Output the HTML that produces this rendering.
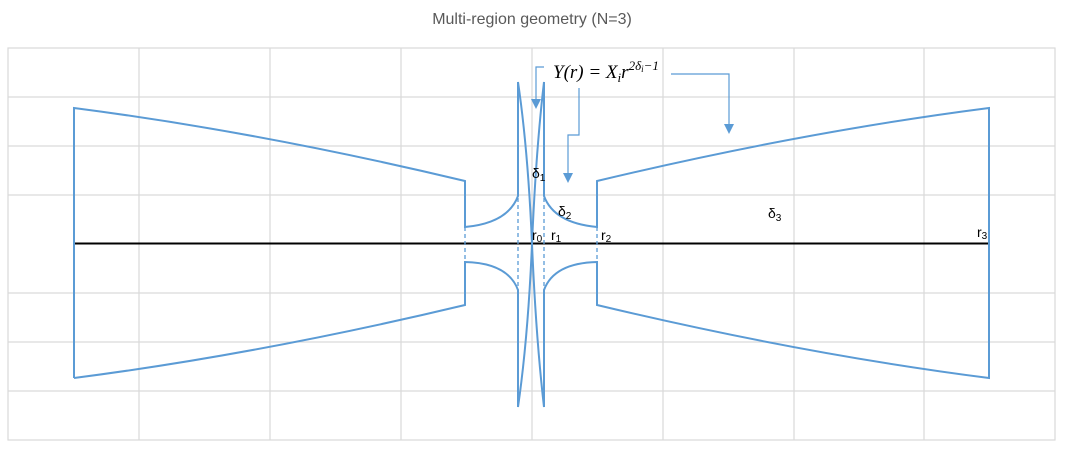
<!DOCTYPE html>
<html><head><meta charset="utf-8"><style>
html,body{margin:0;padding:0;background:#fff;}
svg{display:block;}
.lbl{font-family:"Liberation Sans","DejaVu Sans",sans-serif;font-size:14px;fill:#000;}
</style></head><body>
<svg width="1065" height="453" viewBox="0 0 1065 453" xmlns="http://www.w3.org/2000/svg">
<text x="532" y="24" text-anchor="middle" font-family="Liberation Sans, DejaVu Sans, sans-serif" font-size="16" fill="#595959">Multi-region geometry (N=3)</text>
<g stroke="#d9d9d9" stroke-width="1.2" fill="none">
<rect x="8" y="48" width="1047" height="392"/>
<line x1="139" y1="48" x2="139" y2="440"/><line x1="270" y1="48" x2="270" y2="440"/>
<line x1="401" y1="48" x2="401" y2="440"/><line x1="532" y1="48" x2="532" y2="440"/>
<line x1="663" y1="48" x2="663" y2="440"/><line x1="794" y1="48" x2="794" y2="440"/>
<line x1="924" y1="48" x2="924" y2="440"/>
<line x1="8" y1="97" x2="1055" y2="97"/><line x1="8" y1="146" x2="1055" y2="146"/>
<line x1="8" y1="195" x2="1055" y2="195"/><line x1="8" y1="293" x2="1055" y2="293"/>
<line x1="8" y1="342" x2="1055" y2="342"/><line x1="8" y1="391" x2="1055" y2="391"/>
</g>
<line x1="74" y1="243.5" x2="989" y2="243.5" stroke="#000" stroke-width="2"/>
<g stroke="#5b9bd5" stroke-width="1.3" stroke-dasharray="4,3" fill="none">
<line x1="465" y1="227" x2="465" y2="262"/><line x1="518" y1="198" x2="518" y2="290"/>
<line x1="544" y1="198" x2="544" y2="290"/><line x1="597" y1="227" x2="597" y2="262"/>
</g>
<g stroke="#5b9bd5" stroke-width="2" fill="none" stroke-linejoin="miter">
<path d="M74,378 L74,108 Q260,132 465,181 L465,227 Q508,223 518,196 L518,82 Q528,150 532,244 Q536,150 544,82 L544,196 Q554,223 597,227 L597,181 Q802,132 989,108 L989,378 Q802,354 597,305 L597,262 Q554,263 544,290 L544,407 Q536,338 532,244 Q528,338 518,407 L518,290 Q508,263 465,262 L465,305 Q260,354 74,378"/>
</g>
<g stroke="#5b9bd5" stroke-width="1.2" fill="none">
<polyline points="544,67 536,67 536,100"/>
<polyline points="579,88 579,135 568,135 568,174"/>
<polyline points="671,74 729,74 729,125"/>
</g>
<g fill="#5b9bd5">
<polygon points="531,99 541,99 536,109"/>
<polygon points="563,173 573,173 568,183"/>
<polygon points="724,124 734,124 729,134"/>
</g>
<text x="553" y="78" font-family="Liberation Serif, DejaVu Serif, serif" font-style="italic" font-size="19">Y(r) = X<tspan font-size="13" dy="4">i</tspan><tspan dy="-4">r</tspan><tspan font-size="13" dy="-8">2δ</tspan><tspan font-size="9" dy="2">i</tspan><tspan font-size="13" dy="-2">−1</tspan></text>
<text class="lbl" x="532" y="178">δ<tspan font-size="10" dy="3">1</tspan></text>
<text class="lbl" x="558" y="216">δ<tspan font-size="10" dy="3">2</tspan></text>
<text class="lbl" x="768" y="218">δ<tspan font-size="10" dy="3">3</tspan></text>
<text class="lbl" x="532" y="240">r<tspan font-size="10" dy="2">0</tspan></text>
<text class="lbl" x="551" y="240">r<tspan font-size="10" dy="2">1</tspan></text>
<text class="lbl" x="601" y="240">r<tspan font-size="10" dy="2">2</tspan></text>
<text class="lbl" x="977" y="237">r<tspan font-size="10" dy="2">3</tspan></text>
</svg>
</body></html>
